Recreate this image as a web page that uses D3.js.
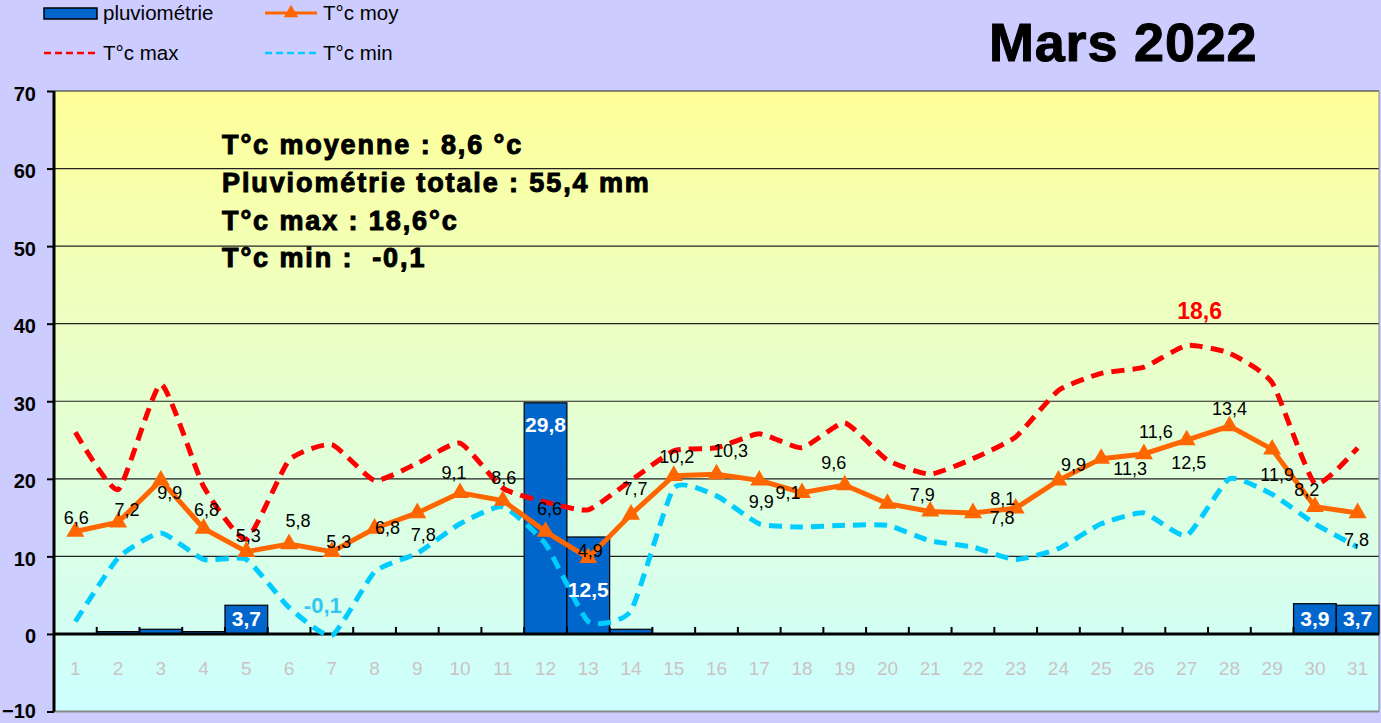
<!DOCTYPE html>
<html>
<head>
<meta charset="utf-8">
<script src="https://cdn.jsdelivr.net/npm/d3@7"></script>
<style>
  body { margin: 0; background: #ccccff; }
  svg { display: block; font-family: "Liberation Sans", Arial, sans-serif; }
</style>
</head>
<body>
<svg width="1381" height="723"></svg>
<script>
// jours du mois
var days = d3.range(1, 32);
// pluviométrie (mm)
var pluvio = [0, 0.3, 0.6, 0.3, 3.7, 0, 0, 0, 0, 0, 0, 29.8, 12.5, 0.6, 0, 0, 0, 0, 0, 0, 0, 0, 0, 0, 0, 0, 0, 0, 0, 3.9, 3.7];
// T°c moy
var tMoy = [6.6, 7.2, 9.9, 6.8, 5.3, 5.8, 5.3, 6.8, 7.8, 9.1, 8.6, 6.6, 4.9, 7.7, 10.2, 10.3, 9.9, 9.1, 9.6, 8.4, 7.9, 7.8, 8.1, 9.9, 11.3, 11.6, 12.5, 13.4, 11.9, 8.2, 7.8];
// T°c max
var tMax = [13.0, 9.3, 16.1, 9.5, 6.1, 11.2, 12.2, 9.9, 11.0, 12.3, 9.4, 8.5, 8.0, 9.9, 11.8, 12.0, 12.9, 12.0, 13.6, 11.2, 10.3, 11.3, 12.7, 15.7, 16.8, 17.2, 18.6, 18.1, 16.2, 9.7, 12.0];
// T°c min
var tMin = [0.8, 4.9, 6.5, 4.8, 4.8, 1.7, -0.1, 4.0, 5.2, 7.1, 8.2, 5.8, 0.8, 1.5, 9.4, 8.9, 7.1, 6.9, 7.0, 7.0, 6.0, 5.6, 4.8, 5.5, 7.1, 7.8, 6.35, 10.0, 9.0, 7.1, 5.6];
var yTicks = [-10, 0, 10, 20, 30, 40, 50, 60, 70];
var statLines = ["T°c moyenne : 8,6 °c", "Pluviométrie totale : 55,4 mm", "T°c max : 18,6°c", "T°c min :  -0,1"];

// placement des étiquettes de T°c moy (décalage par rapport au point)
var moyLabelOffset = [[1,-14],[9,-13],[9,12],[3,-19],[2,-16],[9,-23],[7,-10],[13,-1],[6,22],[-6,-20],[1,-23],[4,-23],[2,-7],[4,-26],[3,-19],[14,-23],[2,21],[-14,0],[-11,-22],null,[-8,-17],[29,5],[-13,-10],[15,-16],[29,10],[12,-22],[2,23],[0,-17],[5,25],[-8,-17],[-1,27]];

var svg = d3.select("svg");
var fmt = function(v){ return String(v).replace(".", ","); };

var pLeft = 54, pRight = 1379, pTop = 91, pBottom = 711.5;
var x = d3.scaleBand().domain(days).range([pLeft, pRight]).padding(0);
var y = d3.scaleLinear().domain([-10, 70]).range([pBottom, pTop]);
var yT = d3.scaleLinear().domain([-5, 35]).range([pBottom, pTop]);
var cx = function(i){ return x(days[i]) + x.bandwidth() / 2; };

svg.append("rect").attr("width", 1381).attr("height", 723).attr("fill", "#ccccff");

var defs = svg.append("defs");
var grad = defs.append("linearGradient").attr("id", "bg").attr("x1", 0).attr("y1", 0).attr("x2", 0).attr("y2", 1);
grad.append("stop").attr("offset", "0%").attr("stop-color", "#ffff99");
grad.append("stop").attr("offset", "50%").attr("stop-color", "#e6ffd0");
grad.append("stop").attr("offset", "100%").attr("stop-color", "#ccffff");

svg.append("rect").attr("x", pLeft).attr("y", pTop).attr("width", pRight - pLeft).attr("height", pBottom - pTop)
  .attr("fill", "url(#bg)");

// grille
svg.append("g").selectAll("line").data(yTicks.filter(function(d){ return d !== 0; }))
  .enter().append("line")
  .attr("x1", pLeft).attr("x2", pRight)
  .attr("y1", function(d){ return y(d); }).attr("y2", function(d){ return y(d); })
  .attr("stroke", function(d){ return d === -10 ? "#888" : "#222"; })
  .attr("stroke-width", function(d){ return d === -10 ? 2 : 1.2; });
svg.append("line").attr("x1", pRight).attr("x2", pRight).attr("y1", pTop).attr("y2", pBottom)
  .attr("stroke", "#888").attr("stroke-width", 1);

// barres pluviométrie
var barG = svg.append("g");
pluvio.forEach(function(d, i){
  if (d <= 0) return;
  barG.append("rect")
    .attr("x", x(days[i])).attr("width", x.bandwidth())
    .attr("y", y(d)).attr("height", y(0) - y(d))
    .attr("fill", "#0066cc").attr("stroke", "#000").attr("stroke-width", 1.2);
});

// axe X
var xAxisG = svg.append("g");
xAxisG.append("line").attr("x1", pLeft).attr("x2", pRight).attr("y1", y(0)).attr("y2", y(0))
  .attr("stroke", "#000").attr("stroke-width", 3);
xAxisG.selectAll(".tk").data(days.slice(1))
  .enter().append("line")
  .attr("x1", function(d){ return x(d); }).attr("x2", function(d){ return x(d); })
  .attr("y1", y(0)).attr("y2", y(0) - 7)
  .attr("stroke", "#000").attr("stroke-width", 2);
xAxisG.selectAll("text").data(days)
  .enter().append("text")
  .attr("x", function(d){ return x(d) + x.bandwidth() / 2; })
  .attr("y", 668).attr("dy", "0.35em")
  .attr("text-anchor", "middle").attr("font-size", 19).attr("fill", "#cbc3c3")
  .text(function(d){ return d; });

// axe Y
var yAxis = d3.axisLeft(y).tickValues(yTicks).tickSize(7).tickPadding(11);
var yg = svg.append("g").attr("transform", "translate(" + pLeft + ",0)").call(yAxis);
yg.select(".domain").attr("stroke-width", 3).attr("d", "M0," + pBottom + "V" + pTop);
yg.selectAll(".tick line").attr("stroke-width", 2);
yg.selectAll(".tick text").attr("font-size", 20).attr("font-weight", "bold").attr("fill", "#000")
  .attr("dy", function(d){ return d === -10 ? "0.3em" : "0.45em"; })
  .attr("font-family", "Liberation Sans, Arial, sans-serif");

// courbes
var lineSmooth = d3.line().x(function(d, i){ return cx(i); }).y(function(d){ return yT(d); }).curve(d3.curveCardinal.tension(0.5));
var lineMoy = d3.line().x(function(d, i){ return cx(i); }).y(function(d){ return yT(d); });

svg.append("path").datum(tMax).attr("d", lineSmooth).attr("fill", "none")
  .attr("stroke", "#ff0000").attr("stroke-width", 5).attr("stroke-dasharray", "13,8");
svg.append("path").datum(tMin).attr("d", lineSmooth).attr("fill", "none")
  .attr("stroke", "#00ccff").attr("stroke-width", 5).attr("stroke-dasharray", "13,8");
svg.append("path").datum(tMoy).attr("d", lineMoy).attr("fill", "none")
  .attr("stroke", "#ff6600").attr("stroke-width", 5);
svg.append("g").selectAll("path").data(tMoy)
  .enter().append("path")
  .attr("d", d3.symbol().type(d3.symbolTriangle).size(140))
  .attr("transform", function(d, i){ return "translate(" + cx(i) + "," + yT(d) + ")"; })
  .attr("fill", "#ff6600");

// étiquettes T°c moy
var lblG = svg.append("g");
tMoy.forEach(function(d, i){
  var o = moyLabelOffset[i];
  if (!o) return;
  lblG.append("text")
    .attr("x", cx(i) + o[0]).attr("y", yT(d) + o[1]).attr("dy", "0.35em")
    .attr("text-anchor", "middle").attr("font-size", 18).attr("fill", "#000")
    .text(fmt(d));
});

// étiquettes pluviométrie
pluvio.forEach(function(d, i){
  if (d < 1) return;
  var ly = i === 11 ? y(d) + 22 : (i === 12 ? y(d) + 53 : y(0) - 15);
  lblG.append("text")
    .attr("x", x(days[i]) + x.bandwidth() / 2).attr("y", ly)
    .attr("dy", "0.35em").attr("text-anchor", "middle")
    .attr("font-size", 21).attr("font-weight", "bold").attr("fill", "#fff")
    .text(fmt(d));
});

// extrêmes
var iMax = tMax.indexOf(d3.max(tMax)), iMin = tMin.indexOf(d3.min(tMin));
lblG.append("text").attr("x", cx(iMax) + 13).attr("y", yT(tMax[iMax]) - 34).attr("dy", "0.35em")
  .attr("text-anchor", "middle").attr("font-size", 23).attr("font-weight", "bold").attr("fill", "#ff0000")
  .text(fmt(tMax[iMax]));
lblG.append("text").attr("x", cx(iMin) - 9).attr("y", yT(tMin[iMin]) - 30).attr("dy", "0.35em")
  .attr("text-anchor", "middle").attr("font-size", 22).attr("font-weight", "bold").attr("fill", "#33c6f0")
  .text(fmt(tMin[iMin]));

// résumé
svg.append("g").selectAll("text").data(statLines)
  .enter().append("text")
  .attr("x", 222).attr("y", function(d, i){ return 145 + i * 37.6; }).attr("dy", "0.35em")
  .attr("font-size", 27).attr("font-weight", "bold").attr("letter-spacing", "1.9px").attr("fill", "#000")
  .attr("stroke", "#000").attr("stroke-width", 1)
  .style("white-space", "pre")
  .text(function(d){ return d; });

// titre
svg.append("text").attr("x", 989).attr("y", 42).attr("dy", "0.35em")
  .attr("font-size", 54).attr("font-weight", "bold").attr("letter-spacing", "0.8px").attr("fill", "#000")
  .attr("stroke", "#000").attr("stroke-width", 1)
  .text("Mars 2022");

// légende
var lg = svg.append("g").attr("font-size", 20.5).attr("fill", "#000");
lg.append("rect").attr("x", 44).attr("y", 8).attr("width", 53).attr("height", 11)
  .attr("fill", "#0066cc").attr("stroke", "#000").attr("stroke-width", 1.5);
lg.append("text").attr("x", 103).attr("y", 13).attr("dy", "0.35em").text("pluviométrie");
lg.append("line").attr("x1", 265).attr("x2", 317).attr("y1", 13).attr("y2", 13)
  .attr("stroke", "#ff6600").attr("stroke-width", 3);
lg.append("path").attr("d", d3.symbol().type(d3.symbolTriangle).size(90))
  .attr("transform", "translate(291,13)").attr("fill", "#ff6600");
lg.append("text").attr("x", 323).attr("y", 13).attr("dy", "0.35em").text("T°c moy");
lg.append("line").attr("x1", 44).attr("x2", 97).attr("y1", 53).attr("y2", 53)
  .attr("stroke", "#ff0000").attr("stroke-width", 2.5).attr("stroke-dasharray", "7,4");
lg.append("text").attr("x", 103).attr("y", 53).attr("dy", "0.35em").text("T°c max");
lg.append("line").attr("x1", 265).attr("x2", 317).attr("y1", 53).attr("y2", 53)
  .attr("stroke", "#00ccff").attr("stroke-width", 2.5).attr("stroke-dasharray", "7,4");
lg.append("text").attr("x", 323).attr("y", 53).attr("dy", "0.35em").text("T°c min");
</script>
</body>
</html>
